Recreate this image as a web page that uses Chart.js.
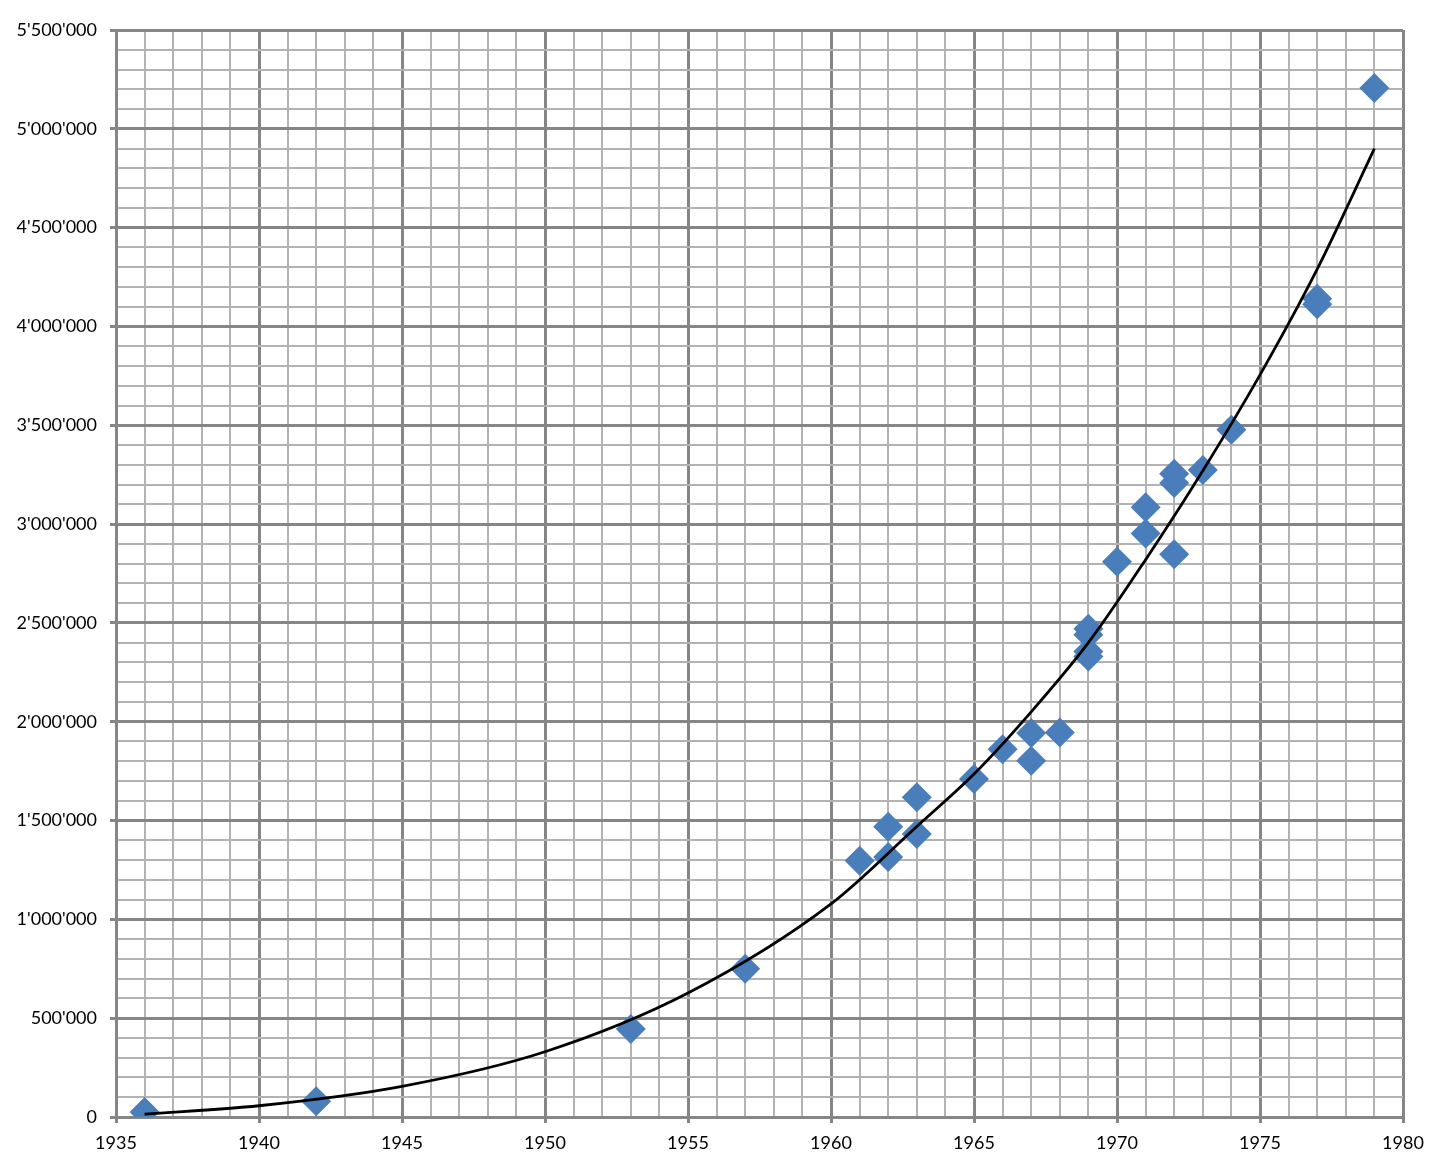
<!DOCTYPE html>
<html>
<head>
<meta charset="utf-8">
<script src="https://cdn.jsdelivr.net/npm/chart.js@4"></script>
<style>
  html, body { margin: 0; padding: 0; background: #fff; }
  #wrap { width: 1444px; height: 1169px; position: relative; }
</style>
</head>
<body>
<div id="wrap"><canvas id="chart"></canvas></div>
<script>
// Observations (year, value)
const pointYears = [1936, 1942, 1953, 1957, 1961, 1962, 1962, 1963, 1963, 1965, 1966, 1967, 1967, 1968,
    1969, 1969, 1969, 1969, 1970, 1971, 1971, 1972, 1972, 1972, 1973, 1974, 1977, 1977, 1979];
const pointValues = [25000, 80000, 445000, 750000, 1296000, 1469000, 1315000, 1618000, 1432000, 1710000,
    1861000, 1943000, 1803000, 1945000, 2470000, 2440000, 2355000, 2330000, 2810000, 3085000, 2953000,
    3255000, 3208000, 2848000, 3274000, 3477000, 4140000, 4112000, 5206000];

// Trend line
const trendYears = [1936, 1940, 1945, 1950, 1955, 1960, 1963, 1965, 1967, 1969, 1971, 1973, 1975, 1977, 1979];
const trendValues = [15000, 57000, 155000, 330000, 627000, 1078000, 1470000, 1735000, 2050000, 2400000,
    2820000, 3270000, 3755000, 4290000, 4900000];

const majorColor = '#868686';
const minorColor = '#b3b3b3';
const labelFont = { family: 'Lato', size: 18 };

function fmt(v) {
    return String(Math.round(v)).replace(/\B(?=(\d{3})+(?!\d))/g, "'");
}

function isMajor(ctx, step) {
    return ctx.tick && Math.round(ctx.tick.value) % step === 0;
}

const ctx = document.getElementById('chart').getContext('2d');
new Chart(ctx, {
    type: 'scatter',
    data: {
        datasets: [{
            data: trendYears.map((y, i) => ({ x: y, y: trendValues[i] })),
            showLine: true,
            borderColor: '#000',
            borderWidth: 2.8,
            pointRadius: 0,
            cubicInterpolationMode: 'monotone',
            order: 0
        }, {
            data: pointYears.map((y, i) => ({ x: y, y: pointValues[i] })),
            pointStyle: 'rectRot',
            pointRadius: 15,
            pointBorderWidth: 0,
            backgroundColor: '#4A7EBB',
            borderColor: '#4A7EBB',
            order: 1
        }]
    },
    options: {
        responsive: true,
        maintainAspectRatio: false,
        animation: false,
        layout: { padding: { top: 30, right: 41, bottom: 12, left: 0 } },
        plugins: { legend: { display: false }, tooltip: { enabled: false } },
        scales: {
            x: {
                type: 'linear',
                min: 1935, max: 1980,
                afterFit: s => { s.height = 40; },
                ticks: {
                    stepSize: 1, autoSkip: false, maxRotation: 0, padding: 9,
                    color: '#000', font: labelFont,
                    callback: v => Math.round(v) % 5 === 0 ? String(Math.round(v)) : ''
                },
                grid: {
                    color: c => isMajor(c, 5) ? majorColor : minorColor,
                    lineWidth: c => isMajor(c, 5) ? 3 : 2,
                    tickColor: c => isMajor(c, 5) ? majorColor : 'rgba(0,0,0,0)',
                    tickWidth: 3,
                    tickLength: 6
                },
                border: { color: majorColor, width: 3 }
            },
            y: {
                min: 0, max: 5500000,
                afterFit: s => { s.width = 116; },
                ticks: {
                    stepSize: 100000, autoSkip: false, padding: 13,
                    color: '#000', font: labelFont,
                    callback: v => Math.round(v) % 500000 === 0 ? fmt(v) : ''
                },
                grid: {
                    color: c => isMajor(c, 500000) ? majorColor : minorColor,
                    lineWidth: c => isMajor(c, 500000) ? 3 : 2,
                    tickColor: c => isMajor(c, 500000) ? majorColor : 'rgba(0,0,0,0)',
                    tickWidth: 3,
                    tickLength: 6
                },
                border: { color: majorColor, width: 3 }
            }
        }
    }
});
</script>
</body>
</html>
